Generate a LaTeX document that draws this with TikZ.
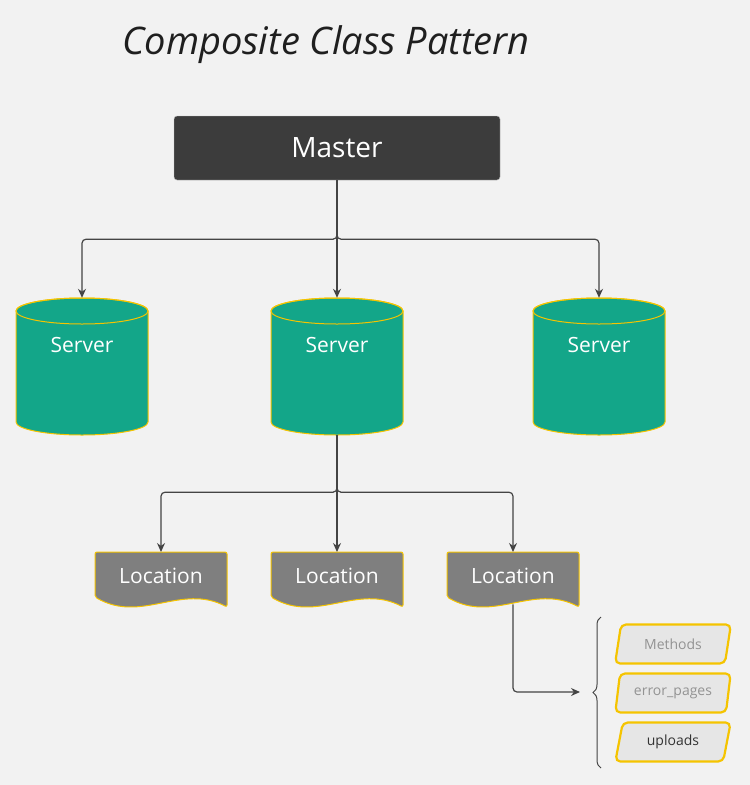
\documentclass[tikz,border=0pt]{standalone}
\usepackage{fontspec}
\setmainfont{Open Sans}
\usetikzlibrary{shapes.geometric,arrows.meta,decorations.pathreplacing}
\definecolor{bgcol}{HTML}{F2F2F2}
\definecolor{mastercol}{HTML}{3C3C3C}
\definecolor{servercol}{HTML}{13A689}
\definecolor{loccol}{HTML}{7F7F7F}
\definecolor{edgecol}{HTML}{F5C400}
\definecolor{linecol}{HTML}{444444}
\definecolor{partcol}{HTML}{E6E6E6}
\tikzset{
  master/.style={rectangle,rounded corners=3pt,draw=gray!50,fill=mastercol,text=white,
    minimum width=326pt,minimum height=64pt,font=\fontsize{28}{32}\selectfont},
  srvshape/.style={draw=edgecol,fill=servercol,line width=1pt},
  server/.style={rectangle,minimum width=132pt,minimum height=137pt,inner sep=0pt},
  srvlabel/.style={text=white,font=\fontsize{21}{24}\selectfont,label distance=-58pt},
  locshape/.style={draw=edgecol,fill=loccol,line width=1pt,rounded corners=2pt},
  loctext/.style={text=white,font=\fontsize{21}{24}\selectfont,minimum width=132pt,minimum height=48pt,anchor=north},
  part/.style={trapezium,trapezium left angle=78,trapezium right angle=102,trapezium stretches=true,
    rounded corners=5pt,draw=edgecol,line width=2.2pt,fill=partcol,minimum width=116pt,minimum height=39pt,
    font=\fontsize{14}{16}\selectfont},
  conn/.style={draw=linecol,line width=1.2pt,rounded corners=4pt,-{Stealth[length=9pt,width=8pt]}}
}
\begin{document}
\begin{tikzpicture}[x=1pt,y=-1pt]
\fill[bgcol] (0,0) rectangle (750,785);
\node[font=\fontsize{38}{44}\selectfont\itshape,text=black!88] (title) at (326,45) {Composite Class Pattern};

\node[master] (master) at (337,148) {Master};

% servers: cylinder body, top ellipse, then the node on top
\foreach \x/\n in {82/1,337/2,599/3}{
  \path[srvshape] (\x-66,311) -- (\x-66,422) arc[start angle=180,end angle=360,x radius=66pt,y radius=13pt]
    -- (\x+66,311) arc[start angle=0,end angle=180,x radius=66pt,y radius=13pt] -- cycle;
  \draw[edgecol,line width=1pt] (\x,311) ellipse[x radius=66pt,y radius=13pt];
  \node[server,label={[srvlabel]above:Server}] (s\n) at (\x,366.5) {};
}

\foreach \x/\n in {161/1,337/2,513/3}{
  \draw[locshape] (\x-66,597) -- (\x-66,552) -- (\x+66,552) -- (\x+66,607)
    .. controls (\x+20,583) and (\x-20,624) .. cycle;
  \node[loctext] (loc\n) at (\x,552) {Location};
}

\node[part,text=gray!85] (methods) at (673,644) {Methods};
\node[part,text=gray!85] (errpages) at (673,693) {error\_pages};
\node[part,text=black!80] (uploads) at (673,742) {uploads};

\coordinate (brtip) at (580,692);
\draw[linecol,line width=1pt,decorate,decoration={brace,amplitude=8pt}] (601,768) -- (601,617);

\draw[conn] (master.south) -- ++(0,59) -| (s1.north);
\draw[conn] (master.south) -- (s2.north);
\draw[conn] (master.south) -- ++(0,59) -| (s3.north);

\draw[conn] (s2.south) -- ++(0,57) -| (loc1.north);
\draw[conn] (s2.south) -- (loc2.north);
\draw[conn] (s2.south) -- ++(0,57) -| (loc3.north);

\draw[conn] ([yshift=-4pt]loc3.south) |- (brtip);
\end{tikzpicture}
\end{document}
